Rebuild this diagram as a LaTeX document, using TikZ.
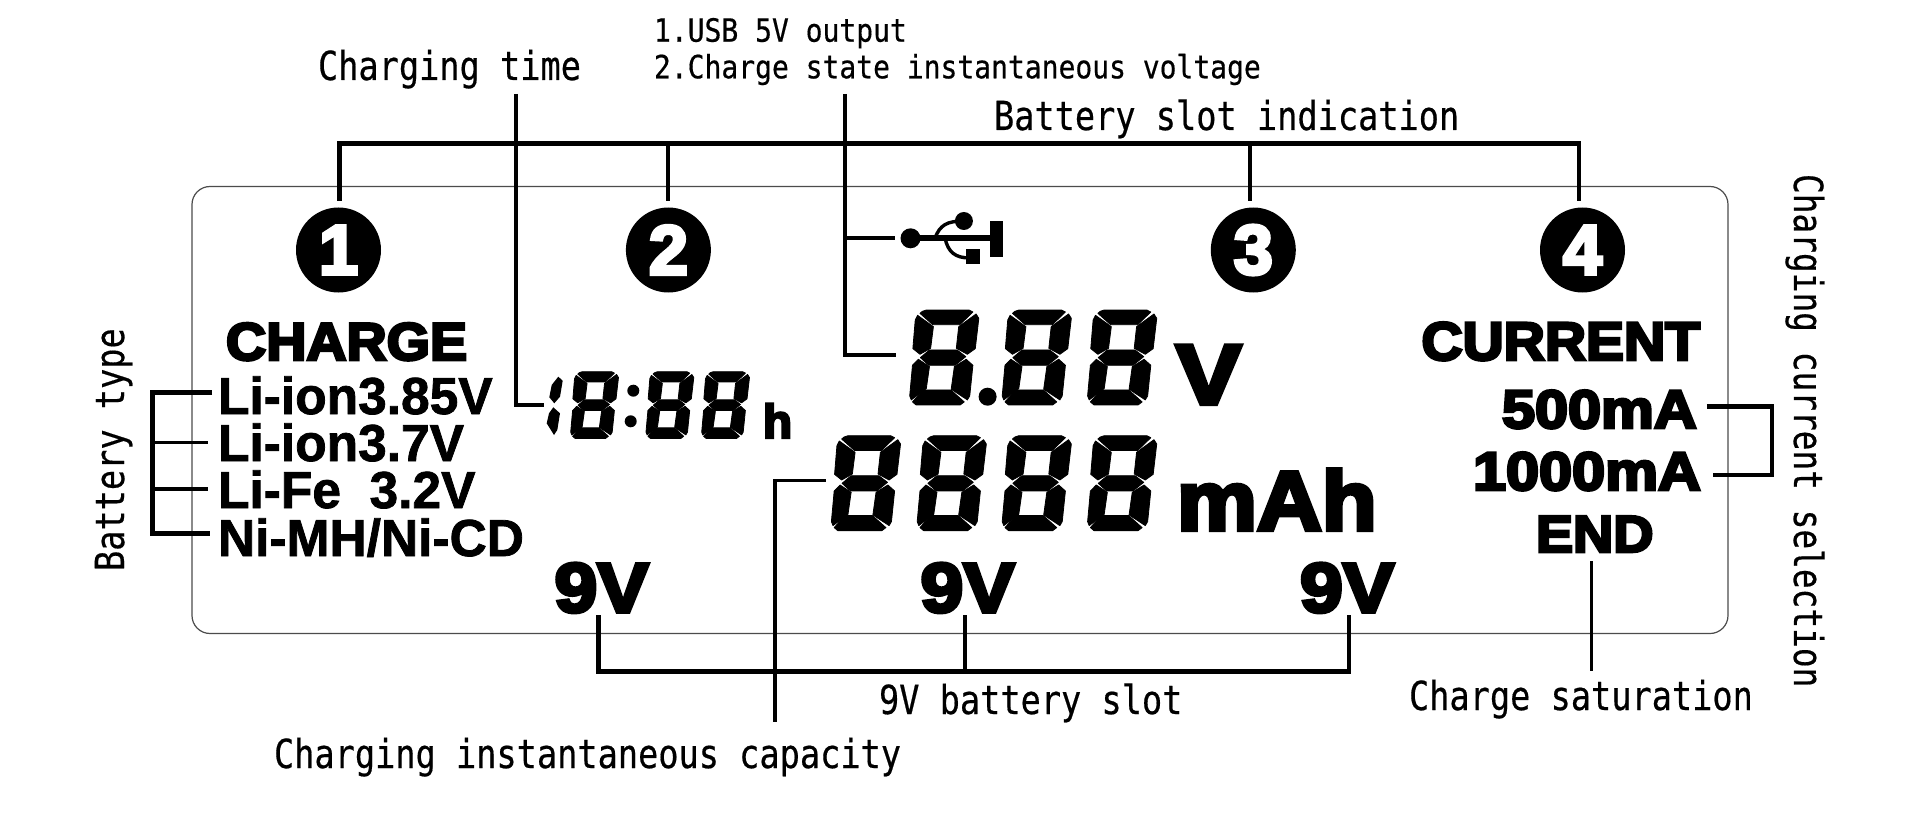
\documentclass[tikz,border=0pt]{standalone}
\usepackage{fontspec}
\usepackage{graphicx}
\newfontfamily\lblf{DejaVu Sans Mono}[FakeBold=.5]
\newfontfamily\heavyf{Liberation Sans Bold}[FakeBold=5]
\newfontfamily\boldf{Liberation Sans Bold}[FakeBold=1.5]
\newcommand\lab[3]{\scalebox{#2}[1]{\lblf\fontsize{#1}{#1}\selectfont #3}}
\newcommand\hv[3]{\scalebox{#2}[1]{\heavyf\fontsize{#1}{#1}\selectfont #3}}
\newcommand\bd[3]{\scalebox{#2}[1]{\boldf\fontsize{#1}{#1}\selectfont #3}}
\newcommand\segd[4]{\begin{scope}[shift={(#1,#2)},xscale=#3,yscale=#4]
\filldraw[segm] (32,4)--(42,0)--(150,0)--(160,6)--(127,44)--(58,44)--(26,10)--cycle;
\filldraw[segm] (20,16)--(60,50)--(53,115)--(26,133)--(8,116)--(14,30)--cycle;
\filldraw[segm] (168,12)--(175,25)--(166,116)--(146,133)--(118,115)--(124,50)--cycle;
\filldraw[segm] (50,120)--(120,120)--(142,140)--(115,166)--(48,166)--(27,143)--cycle;
\filldraw[segm] (22,148)--(50,170)--(42,236)--(4,270)--(0,258)--(7,166)--cycle;
\filldraw[segm] (143,148)--(160,166)--(152,258)--(146,270)--(105,238)--(113,170)--cycle;
\filldraw[segm] (34,240)--(104,240)--(138,276)--(128,285)--(16,285)--(7,276)--cycle;
\end{scope}}
\tikzset{
  segm/.style={fill=black,draw=black,line width=.8pt,line join=round},
  txt/.style={inner sep=0pt,outer sep=0pt,anchor=base west},
  badge/.style={circle,fill=black,text=white,inner sep=0pt,minimum size=85pt},
  thick line/.style={line width=4.5pt,draw=black},
  thin line/.style={line width=3.4pt,draw=black}
}
\begin{document}
\begin{tikzpicture}[x=1pt,y=-1pt]
\useasboundingbox[fill=white] (0,0) rectangle (1920,821);
% panel
\node[draw=black!70,line width=1.2pt,rounded corners=18pt,minimum width=1536pt,minimum height=447pt,inner sep=0pt] (panel) at (960,410) {};
% badges
\node[badge] (c1) at (338.5,250) {\hv{70}{1}{1}};
\node[badge] (c2) at (668.4,250) {\hv{70}{1}{2}};
\node[badge] (c3) at (1253.3,250) {\hv{70}{1}{3}};
\node[badge] (c4) at (1582.5,250) {\hv{70}{1}{4}};
% bold labels
\node[txt] (charge) at (226,360) {\hv{53}{1.05}{CHARGE}};
\node[txt] (b1) at (218,414) {\bd{52}{.99}{Li-ion3.85V}};
\node[txt] (b2) at (218,461) {\bd{52}{.99}{Li-ion3.7V}};
\node[txt] (b3) at (218,508) {\bd{52}{.99}{Li-Fe\ \ 3.2V}};
\node[txt] (b4) at (218,556) {\bd{52}{.99}{Ni-MH/Ni-CD}};
\node[txt] (current) at (1421.5,360) {\hv{54}{1.055}{CURRENT}};
\node[txt] (ma5) at (1502,428) {\hv{54}{1.1}{500mA}};
\node[txt] (ma10) at (1473,490) {\hv{54}{1.1}{1000mA}};
\node[txt] (endl) at (1536,552) {\hv{52}{1.07}{END}};
\node[txt] (nv1) at (554.5,612) {\hv{70}{1.1}{9V}};
\node[txt] (nv2) at (920.5,612) {\hv{70}{1.1}{9V}};
\node[txt] (nv3) at (1300,612) {\hv{70}{1.1}{9V}};
\node[txt] (vunit) at (1176,404) {\hv{85}{1.15}{V}};
\node[txt] (mah) at (1177,530) {\hv{84}{1.07}{mAh}};
\node[txt] (hunit) at (763,438) {\hv{47.5}{1}{h}};
% time display
\fill (558.3,376.7)--(562.7,380.7)--(560,396.7)--(554.3,403.3)--(549.3,397.3)--(551.7,385)--cycle;
\fill (553.3,407.3)--(560,413.3)--(557.3,430)--(554,435)--(546.7,423.3)--(549,413.3)--cycle;
\segd{570.7}{371.7}{.273}{.234}
\fill (633.3,390.7) circle (6);
\fill (630.7,421.3) circle (6);
\segd{646}{371.7}{.273}{.234}
\segd{701.7}{371.7}{.273}{.234}
% voltage display
\segd{909.7}{310}{.395}{.333}
\fill (987.6,396.7) circle (9);
\segd{1002.2}{310}{.395}{.333}
\segd{1087.6}{310}{.395}{.333}
% capacity display
\segd{831.4}{435.7}{.395}{.333}
\segd{917.2}{435.7}{.395}{.333}
\segd{1002.2}{435.7}{.395}{.333}
\segd{1087.6}{435.7}{.395}{.333}
% USB icon
\coordinate (usb) at (895,238);
\fill (910.5,238.3) circle (10);
\fill (910,235.5) rectangle (1003.4,241);
\fill (989.6,220.7) rectangle (1003.4,256.7);
\fill (963.9,221) circle (9);
\draw[line width=3.4pt] (935,238) .. controls (940,225) and (947,221) .. (963.9,221);
\draw[line width=3.4pt] (945,238) .. controls (948,252) and (955,258) .. (970,258);
\fill (965.8,249.3) rectangle (979.7,264);
% outer labels
\node[txt] (ltime) at (318,80) {\lab{40}{.84}{Charging time}};
\node[txt] (lusb) at (654,41.7) {\lab{32}{.875}{1.USB 5V output}};
\node[txt] (lstate) at (654,78.3) {\lab{32}{.875}{2.Charge state instantaneous voltage}};
\node[txt] (lslot) at (994,130) {\lab{40}{.84}{Battery slot indication}};
\node[txt,rotate=90] (ltype) at (124,571) {\lab{40}{.84}{Battery type}};
\node[txt,rotate=-90] (lsel) at (1794,174) {\lab{40}{.82}{Charging current selection}};
\node[txt] (l9v) at (879,714) {\lab{40}{.84}{9V battery slot}};
\node[txt] (lsat) at (1409,710) {\lab{40}{.84}{Charge saturation}};
\node[txt] (lcap) at (274,768) {\lab{40}{.84}{Charging instantaneous capacity}};
% connector end points
\coordinate (busl) at (339.5,143.3);
\coordinate (busr) at (1578.8,143.3);
\coordinate (e1) at (339.5,201);
\coordinate (e2) at (667.8,201);
\coordinate (e3) at (1250,201);
\coordinate (e4) at (1578.8,201);
\coordinate (tt) at (516,94);
\coordinate (tb) at (544,405);
\coordinate (ut) at (845,94);
\coordinate (ub) at (895.5,355);
\coordinate (bt) at (152.7,392.3);
\coordinate (bb) at (152.7,533.3);
\coordinate (k1) at (212,392.3);
\coordinate (k2) at (208,442.7);
\coordinate (k3) at (208,489);
\coordinate (k4) at (210,533.3);
\coordinate (ct) at (825.5,480.7);
\coordinate (cb) at (775,722);
\coordinate (m1) at (1706.8,406.4);
\coordinate (m2) at (1712.8,475);
\coordinate (mx) at (1772,406.4);
\coordinate (n1) at (598.5,615);
\coordinate (n2) at (965,615);
\coordinate (n3) at (1349,615);
\coordinate (nb) at (965,671.7);
\coordinate (st) at (1591.4,561);
\coordinate (sb) at (1591.4,670.7);
% connectors
\draw[thick line] (e1) -- (busl) -- (busr) -- (e4);
\draw[thick line] (e2) -- (e2 |- busl);
\draw[thick line] (e3) -- (e3 |- busl);
\draw[thin line] (tt) |- (tb);
\draw[thin line] (ut) |- (ub);
\draw[thin line] (ut |- usb) -- (usb);
\draw[line width=5.5pt] (k1) -- (bt) -- (bb) -- (k4);
\draw[thin line] (bt |- k2) -- (k2);
\draw[thin line] (bt |- k3) -- (k3);
\draw[thin line] (ct) -| (cb);
\draw[thick line] (m1) -- (mx) -- (mx |- m2) -- (m2);
\draw[thick line] (n1) -- (n1 |- nb) -- (n3 |- nb) -- (n3);
\draw[thick line] (n2) -- (nb);
\draw[thin line] (st) -- (sb);
\end{tikzpicture}
\end{document}
